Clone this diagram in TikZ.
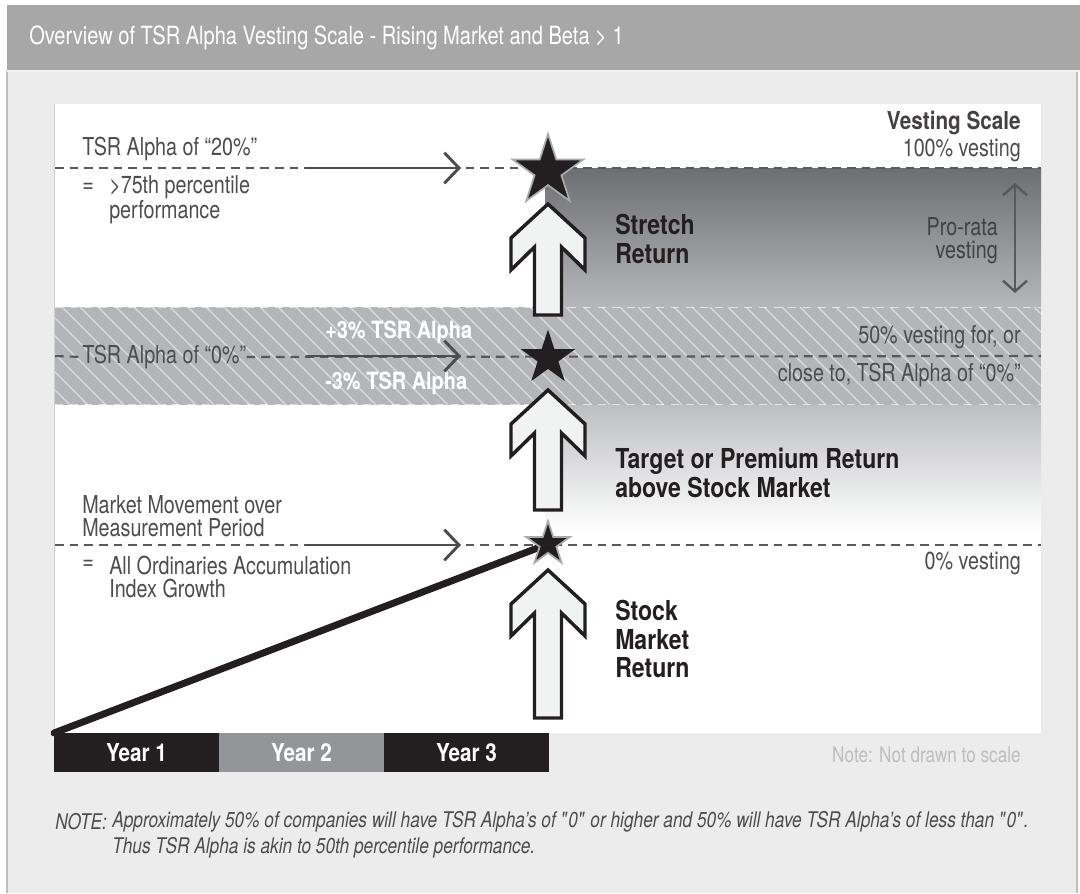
\documentclass[tikz,border=0pt]{standalone}
\usepackage{fontspec}
\setmainfont{TeX Gyre Heros}[FakeStretch=0.80, BoldFeatures={FakeStretch=0.84}]
\usetikzlibrary{arrows.meta,shapes.geometric,positioning}

\definecolor{hdrgray}{HTML}{A7A7A7}
\definecolor{bodygray}{HTML}{ECECEC}
\definecolor{rimgray}{HTML}{BDBDBD}
\definecolor{ink}{HTML}{231F20}
\definecolor{txtgray}{HTML}{4D4D4F}
\definecolor{dashgray}{HTML}{58595B}
\definecolor{bandgray}{HTML}{B4B5B8}
\definecolor{darkshade}{HTML}{6D6E72}
\definecolor{midshade}{HTML}{B6B7BA}
\definecolor{arrowfill}{HTML}{F1F2F2}
\definecolor{stargray}{HTML}{A7A9AC}
\definecolor{yeargray}{HTML}{939598}
\definecolor{notegray}{HTML}{BCBEC0}

\tikzset{
	lbl/.style={font=\fontsize{18.5}{17.2}\selectfont, text=txtgray, inner sep=0pt, align=left},
	lblr/.style={lbl, align=right, anchor=east},
	bigbold/.style={font=\fontsize{20.6}{21.5}\selectfont\bfseries, text=ink, inner sep=0pt, align=left, anchor=west},
	scaleline/.style={dashgray, line width=1.6pt, dash pattern=on 6.5pt off 4.5pt},
	pointer/.style={txtgray, line width=2.2pt, -{Straight Barb[length=11pt,width=23pt]}},
	blockarrow/.style={draw=ink, line width=2.6pt, fill=arrowfill, line join=miter},
	starmark/.style={star, star points=5, star point ratio=2.62, fill=ink, inner sep=0pt},
	yearbar/.style={minimum width=123.75pt, minimum height=29.25pt, inner sep=0pt, text=white, font=\fontsize{18.5}{18}\selectfont\bfseries},
	hatch/.style={white, opacity=0.55, line width=1pt}
}

\begin{document}
\begin{tikzpicture}[x=0.75pt,y=0.75pt,yscale=-1,xscale=1]
	\useasboundingbox (0,0) rectangle (1080,893);
	\fill[white] (0,0) rectangle (1080,893);

	%Shape: Header band and body
	\fill[hdrgray] (7,5) rectangle (1080,71);
	\fill[bodygray] (7,71) rectangle (1077,893);
	\draw[rimgray, line width=1.1pt] (7,71) -- (7,893) (1077,71) -- (1077,893);
	\draw[white!85!hdrgray, line width=1pt] (7,71) -- (1080,71);
	\node[anchor=west, inner sep=0pt, text=white, font=\fontsize{18.8}{18}\selectfont] (title) at (29,38) {Overview of TSR Alpha Vesting Scale - Rising Market and Beta \textgreater{} 1};

	%Shape: White panel
	\fill[white] (55,104) rectangle (1041,733);
	\draw[rimgray!70, line width=1pt] (54.5,104) -- (54.5,733);

	%Shape: Shaded zones
	\shade[top color=darkshade, bottom color=midshade] (545,168) rectangle (1041,307);
	\fill[bandgray] (55,307) rectangle (1041,405);
	\begin{scope}
		\clip (55,307) rectangle (1041,405);
		\foreach \x in {-100,-82,...,1050}
			\draw[hatch] (\x,307) -- ++(98,98);
	\end{scope}
	\draw[white, opacity=0.6, line width=1pt, dash pattern=on 6pt off 5pt] (55,307.5) -- (1041,307.5) (55,404.5) -- (1041,404.5);
	\shade[top color=midshade!90!white, bottom color=white] (545,405) rectangle (1041,532);

	% Text Node
	\node[lbl, anchor=west] (alpha20) at (82,149) {TSR Alpha of “20\%”};
	\node[lbl, anchor=west] (eq20) at (82,188) {=};
	\node[lbl, anchor=west] (pct75) at (109,200) {\textgreater75th percentile\\performance};
	\node[lbl, anchor=west] (alpha0) at (82,357) {TSR Alpha of “0\%”};
	\node[lbl, anchor=west] (mktmove) at (82,516) {Market Movement over\\Measurement Period};
	\node[lbl, anchor=west] (eqidx) at (82,565) {=};
	\node[lbl, anchor=west] (allords) at (109,577) {All Ordinaries Accumulation\\Index Growth};
	\node[lbl, anchor=west, text=white, font=\fontsize{17.8}{16}\selectfont\bfseries] (plus3) at (325,332) {+3\% TSR Alpha};
	\node[lbl, anchor=west, text=white, font=\fontsize{17.8}{16}\selectfont\bfseries] (minus3) at (325,383) {-3\% TSR Alpha};

	\node[lblr, text=ink!85, font=\fontsize{18.5}{16}\selectfont\bfseries] (vscale) at (1021,123) {Vesting Scale};
	\node[lblr] (v100) at (1021,150) {100\% vesting};
	\node[lblr, text=darkshade!60!black] (prorata) at (998,241) {Pro-rata\\vesting};
	\node[lblr] (v50a) at (1021,337) {50\% vesting for, or};
	\node[lblr] (v50b) at (1021,375) {close to, TSR Alpha of “0\%”};
	\node[lblr] (v0) at (1021,563) {0\% vesting};

	\node[bigbold] (stretch) at (615,239) {Stretch\\Return};
	\node[bigbold] (target) at (615,473) {Target or Premium Return\\above Stock Market};
	\node[bigbold] (stockret) at (615,639) {Stock\\Market\\Return};

	%Straight Lines: scale levels
	\coordinate (l20w) at (55,168);   \coordinate (l20e) at (1041,168);
	\coordinate (l0w) at (55,356);    \coordinate (l0e) at (1041,356);
	\coordinate (lmw) at (55,545);    \coordinate (lme) at (1041,545);
	\draw[scaleline] (l20w) -- (l20e);
	\draw[scaleline] (l0w) -- (alpha0.west);
	\draw[scaleline] (alpha0.east) -- (l0e);
	\draw[scaleline] (lmw) -- (lme);

	%Straight Lines: pointers
	\coordinate (p20a) at (306,168);  \coordinate (p20b) at (461,168);
	\coordinate (p0a) at (306,356);   \coordinate (p0b) at (461,356);
	\coordinate (pma) at (306,545);   \coordinate (pmb) at (461,545);
	\draw[pointer] (p20a) -- (p20b);
	\draw[pointer] (p0a) -- (p0b);
	\draw[pointer] (pma) -- (pmb);

	%Straight Lines: pro-rata range
	\coordinate (prtop) at (1015,183);
	\coordinate (prbot) at (1015,293);
	\draw[dashgray, line width=1.8pt, {Straight Barb[length=8pt,width=18pt]}-{Straight Barb[length=8pt,width=18pt]}] (prtop) -- (prbot);

	%Shape: Block arrows
	\foreach \ty/\yb in {204/315, 390/510, 570/718}
		\draw[blockarrow] (548,\ty) -- (585,\ty+34) -- (585,\ty+66) -- (561.5,\ty+43) -- (561.5,\yb) -- (534.5,\yb) -- (534.5,\ty+43) -- (511,\ty+66) -- (511,\ty+34) -- cycle;

	%Straight Lines: market line
	\coordinate (start) at (54,733);
	\coordinate (mktpt) at (548,544);
	\draw[ink, line width=5.2pt, line cap=round] (start) -- (mktpt);

	%Shape: Stars
	\node[starmark, draw=stargray, line width=1.3pt, minimum size=34.5pt] (smkt) at (mktpt) {};
	\node[starmark, minimum size=42.75pt] (s0) at (548,358) {};
	\node[starmark, draw=stargray, line width=1.3pt, minimum size=55.5pt] (s20) at (548,171) {};

	%Shape: Year bars
	\node[yearbar, fill=ink] (y1) at (136.5,752.5) {Year 1};
	\node[yearbar, fill=yeargray] (y2) at (301.5,752.5) {Year 2};
	\node[yearbar, fill=ink] (y3) at (466.5,752.5) {Year 3};

	% Text Node
	\node[lblr, text=notegray, font=\fontsize{16.1}{15}\selectfont] (notescale) at (1021,755) {Note: Not drawn to scale};
	\node[lbl, anchor=west, font=\fontsize{16.2}{15}\selectfont\itshape] (notekey) at (55,822) {NOTE:};
	\node[lbl, anchor=west, font=\fontsize{16.2}{15}\selectfont\itshape] (note1) at (112,822) {Approximately 50\% of companies will have TSR Alpha's of \textquotedbl0\textquotedbl{} or higher and 50\% will have TSR Alpha's of less than \textquotedbl0\textquotedbl.};
	\node[lbl, anchor=west, font=\fontsize{16.2}{15}\selectfont\itshape] (note2) at (112,848) {Thus TSR Alpha is akin to 50th percentile performance.};

\end{tikzpicture}
\end{document}
